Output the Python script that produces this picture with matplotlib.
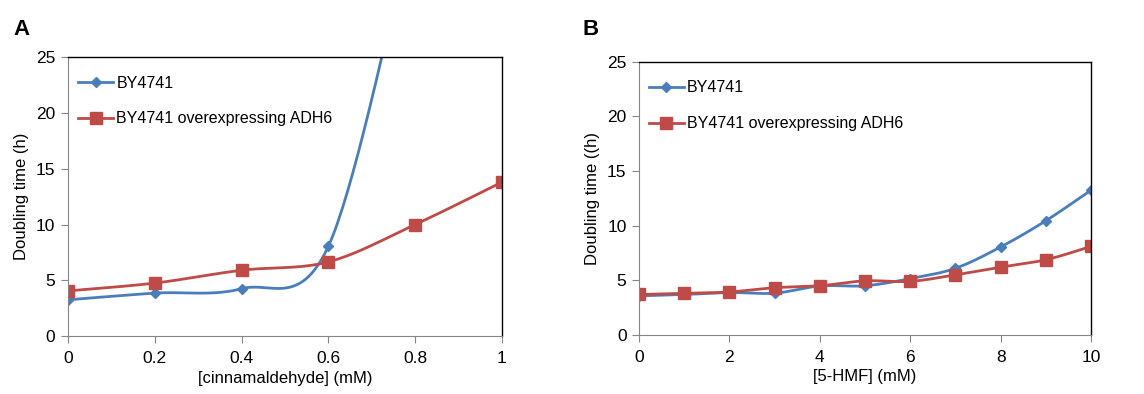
import numpy as np
import matplotlib
matplotlib.use("Agg")
import matplotlib.pyplot as plt

plt.rcParams['font.family'] = ['Liberation Sans', 'DejaVu Sans']

# panel A - cinnamaldehyde
cin_x_wt = [0, 0.2, 0.4, 0.6, 0.8]
cin_y_wt = [3.25, 3.85, 4.25, 8.05, 38.0]
cin_x_adh = [0, 0.2, 0.4, 0.6, 0.8, 1.0]
cin_y_adh = [4.05, 4.75, 5.9, 6.65, 10.0, 13.8]

# panel B - 5-HMF
hmf_x = [0, 1, 2, 3, 4, 5, 6, 7, 8, 9, 10]
hmf_y_wt = [3.57, 3.7, 3.88, 3.82, 4.48, 4.5, 5.15, 6.1, 8.05, 10.45, 13.25]
hmf_y_adh = [3.7, 3.8, 3.93, 4.32, 4.5, 4.95, 4.9, 5.5, 6.2, 6.88, 8.1]

labels = ['BY4741', 'BY4741 overexpressing ADH6']
BLUE = '#4A7EBB'
RED = '#BE4B48'


def smooth(x, y, n=40):
    # Excel-style smoothed line (cubic bezier, catmull-rom handles)
    p = np.column_stack([x, y]).astype(float)
    pts = []
    for i in range(len(p) - 1):
        p0 = p[max(i - 1, 0)]
        p1, p2 = p[i], p[i + 1]
        p3 = p[min(i + 2, len(p) - 1)]
        c1 = p1 + (p2 - p0) / 6
        c2 = p2 - (p3 - p1) / 6
        t = np.linspace(0, 1, n)[:, None]
        seg = ((1 - t) ** 3) * p1 + 3 * (1 - t) ** 2 * t * c1 + 3 * (1 - t) * t ** 2 * c2 + t ** 3 * p2
        pts.append(seg)
    pts = np.vstack(pts)
    return pts[:, 0], pts[:, 1]


def draw(ax, x1, y1, x2, y2, xticks, xticklabels, xlabel, ylabel):
    sx, sy = smooth(x1, y1)
    ax.plot(sx, sy, color=BLUE, lw=2.0)
    ax.plot(x1, y1, ls='none', marker='D', ms=5.5, color=BLUE)
    sx, sy = smooth(x2, y2)
    ax.plot(sx, sy, color=RED, lw=2.0)
    ax.plot(x2, y2, ls='none', marker='s', ms=8, color=RED)
    # legend proxies
    ax.plot([], [], color=BLUE, lw=2.0, marker='D', ms=5.5, label=labels[0])
    ax.plot([], [], color=RED, lw=2.0, marker='s', ms=8, label=labels[1])

    ax.set_xlim(xticks[0], xticks[-1])
    ax.set_ylim(0, 25)
    ax.set_yticks([0, 5, 10, 15, 20, 25])
    ax.set_xticks(xticks)
    ax.set_xticklabels(xticklabels)
    ax.tick_params(direction='out', length=5, color='#868686', labelsize=12.5, pad=6)
    ax.tick_params(axis='y', pad=4)
    for s in ['left', 'bottom']:
        ax.spines[s].set_color('#868686')
    for s in ['top', 'right']:
        ax.spines[s].set_color('black')
        ax.spines[s].set_linewidth(1.0)
    ax.set_xlabel(xlabel, fontsize=12, labelpad=3)
    ax.set_ylabel(ylabel, fontsize=12, labelpad=5)
    h, l = ax.get_legend_handles_labels()
    ax.legend(h[-2:], l[-2:], loc='upper left', bbox_to_anchor=(-0.01, 0.985),
              frameon=False, fontsize=11.5, labelspacing=1.3, handlelength=2.2,
              handletextpad=0.2)


fig = plt.figure(figsize=(11.44, 3.94), dpi=100)
axA = fig.add_axes([0.0594, 0.147, 0.3794, 0.708])
axB = fig.add_axes([0.5586, 0.150, 0.3951, 0.693])

draw(axA, cin_x_wt, cin_y_wt, cin_x_adh, cin_y_adh,
     [0, 0.2, 0.4, 0.6, 0.8, 1.0], ['0', '0.2', '0.4', '0.6', '0.8', '1'],
     '[cinnamaldehyde] (mM)', 'Doubling time (h)')
draw(axB, hmf_x, hmf_y_wt, hmf_x, hmf_y_adh,
     [0, 2, 4, 6, 8, 10], ['0', '2', '4', '6', '8', '10'],
     '[5-HMF] (mM)', 'Doubling time ((h)')

fig.text(0.012, 0.912, 'A', fontsize=16, fontweight='bold')
fig.text(0.509, 0.912, 'B', fontsize=16, fontweight='bold')

fig.savefig('out.png', dpi=100)
